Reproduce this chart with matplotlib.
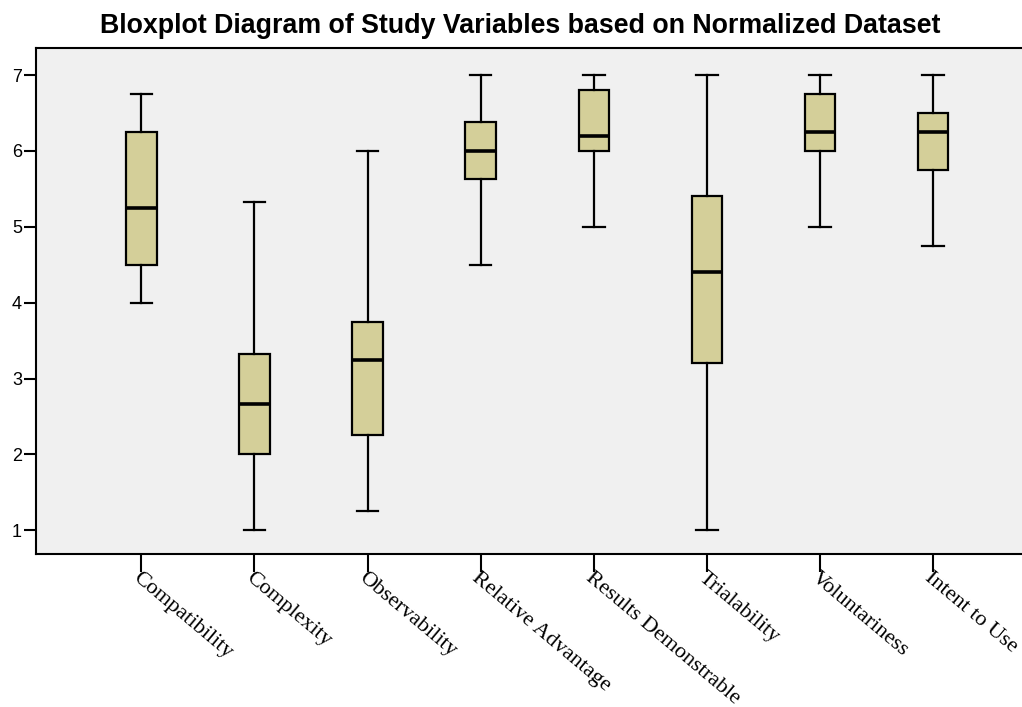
import matplotlib
matplotlib.use("Agg")
import matplotlib.pyplot as plt

# five-number summaries
labels = ['Compatibility', 'Complexity', 'Observability', 'Relative Advantage',
          'Results Demonstrable', 'Trialability', 'Voluntariness', 'Intent to Use']
whislo = [4.0, 1.0, 1.25, 4.5, 5.0, 1.0, 5.0, 4.75]
q1 = [4.5, 2.0, 2.25, 5.63, 6.0, 3.2, 6.0, 5.75]
med = [5.25, 2.67, 3.25, 6.0, 6.2, 4.4, 6.25, 6.25]
q3 = [6.25, 3.33, 3.75, 6.38, 6.8, 5.4, 6.75, 6.5]
whishi = [6.75, 5.33, 6.0, 7.0, 7.0, 7.0, 7.0, 7.0]
yticks = [1, 2, 3, 4, 5, 6, 7]

stats = []
for i in range(len(labels)):
    stats.append(dict(label=labels[i], whislo=whislo[i], q1=q1[i], med=med[i],
                      q3=q3[i], whishi=whishi[i], fliers=[]))

fig = plt.figure(figsize=(10.22, 7.07), dpi=100)
ax = fig.add_axes([0.035, 0.216, 0.97, 0.716])
ax.set_facecolor('#f0f0f0')

pos = list(range(1, len(labels) + 1))
ax.bxp(stats, positions=pos, widths=0.27, capwidths=0.19, patch_artist=True,
       showfliers=False,
       boxprops=dict(facecolor='#d4cf99', edgecolor='black', linewidth=1.6),
       medianprops=dict(color='black', linewidth=2.6),
       whiskerprops=dict(color='black', linewidth=1.6),
       capprops=dict(color='black', linewidth=1.6))

ax.set_xlim(0.067, 8.83)
ax.set_ylim(0.684, 7.356)
ax.set_yticks(yticks)
ax.set_yticklabels([str(v) for v in yticks], fontsize=13, family='Liberation Sans')
ax.tick_params(axis='y', length=9, width=1.5, pad=1)
ax.tick_params(axis='x', length=13, width=1.5, pad=-3)
ax.set_xticks(pos)
ax.set_xticklabels(labels, rotation=-40, ha='left', va='top', rotation_mode='anchor',
                   family='Liberation Serif', fontsize=16)
for s in ['left', 'top', 'bottom']:
    ax.spines[s].set_linewidth(1.5)
ax.spines['right'].set_visible(False)

fig.suptitle('Bloxplot Diagram of Study Variables based on Normalized Dataset',
             x=0.509, y=0.982, fontsize=19.3, fontweight='bold', family='Liberation Sans')

fig.savefig('out.png', dpi=100)
